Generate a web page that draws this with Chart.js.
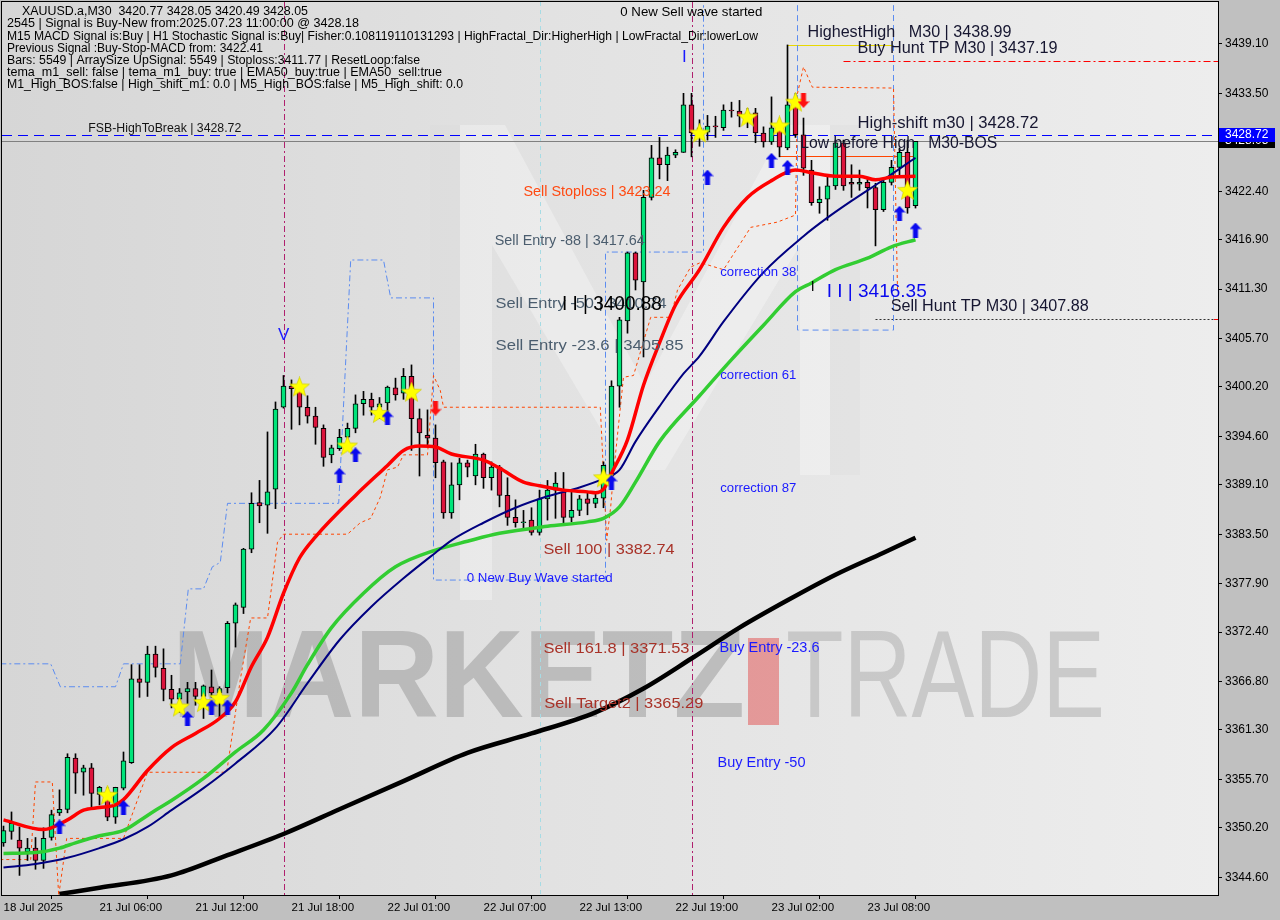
<!DOCTYPE html>
<html lang="en">
<head>
<meta charset="UTF-8">
<title>XAUUSD.a M30</title>
<style>
  html, body { margin: 0; padding: 0; background: #c0c0c0; }
  #wrap { width: 1280px; height: 920px; }
</style>
</head>
<body>
<div id="wrap"><canvas id="myChart" width="1280" height="920"></canvas></div>
<script src="https://cdn.jsdelivr.net/npm/chart.js@4"></script>
<script>
// candles, M30, oldest first (18 Jul 22:00 ... 23 Jul 11:00)
const opens  = [3348.5,3349.8,3348.8,3347.5,3347.9,3346.5,3349.1,3351.9,3352.3,3358.1,3356.5,3357.0,3354.0,3354.2,3351.4,3354.7,3357.6,3367.1,3366.7,3369.9,
  3368.3,3365.9,3364.8,3365.6,3366.0,3365.1,3366.2,3365.5,3366.1,3373.4,3375.2,3381.8,3387.1,3386.8,3388.6,3397.9,3400.3,3400.0,3397.9,3396.9,
  3395.5,3392.5,3393.2,3394.5,3395.5,3398.3,3398.8,3397.9,3398.4,3400.1,3399.5,3401.4,3396.6,3394.7,3394.4,3391.7,3385.9,3389.1,3391.6,3390.1,
  3392.6,3389.9,3391.1,3387.9,3385.4,3384.8,3385.1,3383.7,3387.5,3388.5,3388.3,3385.4,3386.2,3387.5,3387.0,3387.6,3390.1,3400.3,3407.7,3415.4,
  3412.1,3421.7,3426.2,3425.4,3426.5,3426.8,3432.2,3429.0,3429.1,3429.8,3429.6,3431.6,3431.5,3430.9,3431.3,3429.0,3428.0,3429.6,3427.3,3432.2,
  3428.8,3424.8,3421.1,3421.5,3423.0,3427.9,3423.4,3423.2,3423.4,3422.8,3420.3,3423.4,3425.1,3426.8,3420.77];
const highs  = [3350.4,3352.0,3350.3,3349.0,3349.1,3350.2,3352.2,3354.5,3358.6,3358.6,3357.3,3357.5,3354.9,3354.8,3354.8,3358.8,3368.7,3368.7,3370.8,3370.8,
  3370.5,3367.5,3366.0,3366.7,3366.7,3366.4,3368.1,3366.2,3373.6,3375.7,3381.9,3388.2,3389.6,3395.1,3398.5,3401.5,3401.0,3400.6,3399.2,3397.9,
  3395.9,3393.6,3395.4,3396.1,3399.3,3399.7,3399.5,3399.0,3400.3,3401.2,3402.3,3402.7,3397.7,3397.6,3395.9,3391.9,3391.6,3392.1,3391.9,3393.7,
  3392.7,3391.7,3391.3,3389.9,3387.4,3386.2,3386.5,3388.5,3389.6,3390.5,3390.5,3388.5,3387.9,3388.3,3388.2,3391.7,3400.9,3408.1,3415.5,3415.5,
  3422.5,3427.6,3428.5,3427.4,3427.1,3433.5,3433.5,3430.5,3431.0,3430.9,3432.2,3432.5,3432.7,3431.8,3431.8,3429.7,3433.1,3430.1,3438.99,3433.5,
  3430.7,3425.9,3422.9,3424.1,3428.2,3428.2,3425.4,3424.8,3423.9,3423.3,3423.7,3425.9,3427.3,3428.2,3428.05];
const lows   = [3348.1,3348.9,3344.8,3346.5,3345.5,3345.6,3348.8,3351.6,3351.9,3354.1,3353.9,3352.5,3352.8,3351.0,3350.7,3354.5,3357.5,3365.0,3365.1,3367.3,
  3364.6,3363.8,3363.3,3364.3,3364.1,3362.6,3365.0,3362.8,3365.5,3370.7,3374.5,3381.4,3384.8,3383.6,3386.4,3397.8,3395.4,3395.9,3396.1,3393.7,
  3391.2,3391.6,3393.0,3393.9,3395.0,3397.0,3397.0,3396.6,3397.3,3398.7,3398.8,3393.0,3390.1,3393.4,3389.9,3385.3,3385.3,3387.4,3390.0,3389.1,
  3388.7,3388.5,3386.6,3384.5,3384.3,3384.2,3383.4,3383.4,3385.1,3385.3,3384.8,3384.9,3385.6,3385.7,3386.5,3386.5,3389.6,3397.9,3406.3,3411.2,
  3403.6,3421.4,3423.8,3423.6,3426.2,3426.8,3426.3,3427.5,3428.2,3428.5,3429.3,3430.8,3429.7,3429.6,3427.9,3427.4,3427.7,3426.3,3427.1,3428.5,
  3424.2,3420.8,3419.9,3419.1,3422.6,3422.5,3421.7,3422.5,3420.5,3416.2,3420.1,3423.1,3424.2,3419.9,3420.49];
const closes = [3349.9,3350.7,3347.9,3347.9,3346.5,3349.0,3351.7,3352.3,3358.2,3356.4,3357.0,3354.1,3354.8,3351.4,3354.8,3357.8,3367.1,3366.7,3369.9,3368.4,
  3365.9,3364.8,3365.5,3366.0,3365.1,3366.3,3365.5,3366.0,3373.4,3375.5,3381.8,3387.0,3386.7,3388.3,3397.7,3400.3,3400.0,3397.9,3396.9,3395.6,
  3392.2,3393.3,3394.5,3395.5,3398.3,3398.8,3397.9,3398.3,3400.2,3399.3,3401.4,3396.6,3395.0,3394.4,3391.6,3385.9,3389.1,3391.6,3391.1,3392.6,
  3389.9,3391.1,3387.9,3385.4,3384.8,3384.9,3383.7,3387.5,3388.5,3389.3,3385.4,3386.2,3387.5,3387.0,3387.6,3391.3,3400.3,3407.8,3415.4,3412.3,
  3421.7,3426.2,3425.4,3426.5,3426.8,3432.2,3429.0,3429.6,3429.8,3429.7,3431.6,3431.5,3430.9,3431.3,3429.0,3428.0,3429.6,3427.4,3432.2,3428.8,
  3425.0,3421.1,3421.5,3423.0,3427.9,3423.0,3423.2,3423.4,3422.8,3420.3,3423.4,3425.1,3426.8,3420.5,3428.05];

const timeTickIdx = [0, 12, 24, 36, 48, 60, 72, 84, 96, 108];
const timeTickLabels = ['18 Jul 2025','21 Jul 06:00','21 Jul 12:00','21 Jul 18:00','22 Jul 01:00',
  '22 Jul 07:00','22 Jul 13:00','22 Jul 19:00','23 Jul 02:00','23 Jul 08:00'];
const priceTicks = [3439.10,3433.50,3427.90,3422.40,3416.90,3411.30,3405.70,3400.20,3394.60,3389.10,
  3383.50,3377.90,3372.40,3366.80,3361.30,3355.70,3350.20,3344.60];

// moving averages, read at candle indexes
const redIdx = [0,5,8,10,12,14,15,18,21,24,27,29,31,33,35,37,39,44,48,50,52,54,56,60,62,65,67,70,73,74,75,76,78,80,82,84,87,90,93,96,99,101,104,107,109,111,114];
const redVal = [3351.1,3350.0,3351.1,3352.2,3352.5,3352.8,3353.4,3356.7,3359.3,3360.9,3362.6,3364.5,3368.5,3371.8,3376.8,3380.8,3383.2,3387.9,3391.3,3393.0,
  3393.5,3393.4,3392.6,3391.9,3391.0,3389.4,3389.0,3388.5,3388.3,3388.2,3388.6,3390.4,3394.2,3400.4,3405.2,3409.5,3413.5,3418.3,3421.7,3423.6,
  3424.8,3424.5,3424.1,3424.1,3423.7,3424.0,3424.1];
const navyIdx = [0,4,8,12,15,18,21,25,29,34,38,42,46,50,54,56,60,64,68,72,75,77,79,82,85,87,90,95,100,103,106,110,114];
const navyVal = [3345.7,3346.1,3346.8,3347.9,3348.9,3350.3,3352.2,3354.7,3357.5,3361.5,3366.6,3371.5,3375.3,3378.5,3381.4,3382.8,3384.8,3386.5,3387.8,3388.8,
  3389.8,3390.8,3394.0,3398.0,3401.7,3403.7,3407.6,3413.2,3417.3,3419.4,3421.3,3423.7,3426.2];
const greenIdx = [0,4,7,9,12,15,17,19,21,25,29,32.5,36,38,41,45,49,54,58,62,68,73,75,77,79,82,87,91,95,99,101,104,108,111,114];
const greenVal = [3347.3,3347.4,3347.9,3348.5,3349.3,3349.9,3351.0,3352.2,3353.3,3355.8,3358.8,3361.3,3365.5,3368.7,3372.9,3376.8,3379.8,3381.7,3382.7,3383.6,
  3384.4,3384.9,3385.3,3386.6,3389.4,3394.0,3399.2,3403.3,3407.2,3411.0,3412.0,3413.5,3414.8,3416.1,3416.9];
const blackIdx = [7,12,21,28,35,42,50,58,66,74,80,86,92,98,104,110,114];
const blackVal = [3342.7,3343.4,3344.8,3347.1,3349.5,3352.3,3355.5,3358.7,3360.9,3363.3,3366.0,3369.4,3372.9,3376.0,3378.9,3381.4,3383.1];

// stepped stop trail (orange) and fractal channel (blue)
const trailIdx = [-0.4,3.4,4.0,6.1,6.9,7.9,15.0,18.0,27.9,29.6,30.9,33.0,34.25,35.0,43.0,44.6,45.9,47.1,48.0,49.25,50.0,53.0,53.75,54.6,55.0,74.6,75.4,75.9,76.25,
  77.5,78.75,80.9,83.4,84.25,85.9,87.1,90.0,93.4,96.75,99.0,99.25,100.0,101.1,111.25,111.75];
const trailVal = [3346.6,3346.6,3355.4,3355.4,3342.5,3349.0,3349.0,3356.5,3356.5,3367.0,3374.0,3374.0,3382.6,3383.5,3383.5,3384.8,3385.3,3387.7,3390.8,3391.1,
  3392.5,3392.5,3401.5,3399.8,3397.9,3397.9,3382.8,3386.6,3390.4,3401.3,3401.5,3408.1,3408.1,3411.2,3413.8,3414.3,3413.5,3418.3,3418.9,3419.7,
  3433.5,3436.5,3434.2,3434.1,3411.2];
const fractalIdx = [-0.4,5.9,7.1,14.0,15.0,22.1,23.1,25.0,26.1,27.1,28.0,41.9,43.4,47.5,48.4,53.75,53.75,75.25,75.25,87.5,87.5];
const fractalVal = [3368.8,3368.8,3366.2,3366.2,3368.8,3368.8,3377.3,3377.3,3379.8,3380.3,3387.0,3387.0,3414.6,3414.6,3410.3,3410.3,3378.3,3378.3,3415.5,3415.5,3443.5];
const boxIdx = [99.25, 99.25, 111.25, 111.25];
const boxVal = [3443.5, 3406.65, 3406.65, 3443.5];

// signal markers
const starIdx = [13,22,25,27,37,43,47,51,75,87,93,97,99,113];
const starVal = [3353.9,3363.9,3364.4,3364.9,3400.2,3393.5,3397.2,3399.6,3389.9,3429.0,3430.8,3429.8,3432.5,3422.5];
const upIdx = [7,15,23,26,28,42,44,48,76,88,96,98,112,114];
const upVal = [3350.3,3352.5,3362.6,3363.9,3363.9,3390.2,3392.5,3396.7,3389.4,3424.0,3425.9,3425.1,3419.9,3418.0];
const downIdx = [54, 100];
const downVal = [3397.8, 3432.7];

// levels
const fsbLevel = 3428.72, bidLevel = 3428.05;
const buyHuntTP = 3437.19, sellHuntTP = 3407.88, highestHigh = 3438.99, lowBeforeHigh = 3426.39;

const GREEN = '#00e47a', RED = '#dc143c';
const mk = (xs, ys) => xs.map((x, k) => ({ x: x, y: ys[k] }));
const candleIdx = opens.map((_, i) => i);

function starImg() {
  const c = document.createElement('canvas'); c.width = 21; c.height = 21;
  const g = c.getContext('2d');
  g.beginPath();
  for (let k = 0; k < 10; k++) {
    const r = k % 2 ? 4.5 : 10.5, a = -Math.PI / 2 + k * Math.PI / 5;
    g.lineTo(10.5 + r * Math.cos(a), 11 + r * Math.sin(a));
  }
  g.closePath(); g.fillStyle = '#ffff00'; g.fill();
  g.strokeStyle = 'rgba(200,200,0,0.6)'; g.stroke();
  return c;
}
function arrowImg(color, down) {
  const c = document.createElement('canvas'); c.width = 12; c.height = 15;
  const g = c.getContext('2d');
  if (down) { g.translate(0, 15); g.scale(1, -1); }
  g.beginPath();
  g.moveTo(6, 0); g.lineTo(12, 6.5); g.lineTo(8.5, 6.5); g.lineTo(8.5, 15);
  g.lineTo(3.5, 15); g.lineTo(3.5, 6.5); g.lineTo(0, 6.5); g.closePath();
  g.fillStyle = color; g.fill();
  return c;
}

const notes = [
  { t: '0 New Sell wave started', i: 77.1, p: 3442.7, c: '#000000', s: 13, w: 142 },
  { t: 'HighestHigh   M30 | 3438.99', i: 100.5, p: 3440.35, c: '#161630', s: 16, w: 204 },
  { t: 'Buy Hunt TP M30 | 3437.19', i: 106.75, p: 3438.53, c: '#161630', s: 16, w: 200 },
  { t: 'High-shift m30 | 3428.72', i: 106.75, p: 3430.02, c: '#161630', s: 16, w: 181 },
  { t: 'Low before High   M30-BOS', i: 99.6, p: 3427.75, c: '#161630', s: 16, w: 197 },
  { t: 'Sell Stoploss | 3423.24', i: 65.0, p: 3422.31, c: '#ff4a12', s: 14, w: 147 },
  { t: 'Sell Entry -88 | 3417.64', i: 61.4, p: 3416.75, c: '#4b5d6e', s: 14, w: 150 },
  { t: 'Sell Entry -50 | 3410.74', i: 61.5, p: 3409.6, c: '#4b5d6e', s: 15, w: 171 },
  { t: 'I I | 3400.88', i: 69.8, p: 3409.6, c: '#000000', s: 20, w: 100 },
  { t: 'Sell Entry -23.6 | 3405.85', i: 61.5, p: 3404.83, c: '#4b5d6e', s: 15, w: 188 },
  { t: 'correction 38', i: 89.6, p: 3413.12, c: '#1a1aff', s: 12, w: 76 },
  { t: 'correction 61', i: 89.6, p: 3401.43, c: '#1a1aff', s: 12, w: 76 },
  { t: 'correction 87', i: 89.6, p: 3388.61, c: '#1a1aff', s: 12, w: 76 },
  { t: 'I', i: 100.9, p: 3411.5, c: '#000000', s: 14 },
  { t: 'I I | 3416.35', i: 102.9, p: 3410.96, c: '#0a0aee', s: 19, w: 100 },
  { t: 'Sell Hunt TP M30 | 3407.88', i: 110.9, p: 3409.26, c: '#161630', s: 16, w: 198 },
  { t: 'Sell 100 | 3382.74', i: 67.5, p: 3381.70, c: '#a83228', s: 15, w: 131 },
  { t: '0 New Buy Wave started', i: 57.9, p: 3378.4, c: '#1a1aff', s: 12, w: 146 },
  { t: 'Sell 161.8 | 3371.53', i: 67.5, p: 3370.46, c: '#a83228', s: 15, w: 146 },
  { t: 'Sell Target2 | 3365.29', i: 67.6, p: 3364.22, c: '#a83228', s: 15, w: 159 },
  { t: 'Buy Entry -23.6', i: 89.5, p: 3370.57, c: '#1a1aff', s: 14, w: 100 },
  { t: 'Buy Entry -50', i: 89.25, p: 3357.53, c: '#1a1aff', s: 14, w: 88 },
  { t: 'V', i: 34.3, p: 3406.08, c: '#1a1aff', s: 17 },
  { t: 'I', i: 84.8, p: 3437.62, c: '#1a1aff', s: 17 },
  { t: 'FSB-HighToBreak | 3428.72', i: 10.6, p: 3429.45, c: '#141414', s: 12, w: 153 }
];
const header = [
  ['XAUUSD.a,M30  3420.77 3428.05 3420.49 3428.05', 22, 12, 286],
  ['2545 | Signal is Buy-New from:2025.07.23 11:00:00 @ 3428.18', 7, 24, 352],
  ['M15 MACD Signal is:Buy | H1 Stochastic Signal is:Buy| Fisher:0.108119110131293 | HighFractal_Dir:HigherHigh | LowFractal_Dir:lowerLow', 7, 37, 751],
  ['Previous Signal :Buy-Stop-MACD from: 3422.41', 7, 49, 256],
  ['Bars: 5549 | ArraySize UpSignal: 5549 | Stoploss:3411.77 | ResetLoop:false', 7, 61, 413],
  ['tema_m1_sell: false | tema_m1_buy: true | EMA50_buy:true | EMA50_sell:true', 7, 73, 435],
  ['M1_High_BOS:false | High_shift_m1: 0.0 | M5_High_BOS:false | M5_High_shift: 0.0', 7, 85, 456]
];

function fitText(g, text, x, y, size, color, width, weight) {
  g.save();
  g.font = (weight || 'normal') + ' ' + size + 'px "Liberation Sans", Arial, sans-serif';
  g.textBaseline = 'middle'; g.textAlign = 'left'; g.fillStyle = color;
  const m = g.measureText(text).width;
  g.translate(x, y);
  if (width) g.scale(width / m, 1);
  g.fillText(text, 0, 0);
  g.restore();
}

function hLine(g, area, y, x0, x1, color, dash) {
  g.save(); g.strokeStyle = color; g.lineWidth = 1; g.setLineDash(dash || []);
  g.beginPath(); g.moveTo(Math.max(x0, area.left), Math.round(y) + 0.5); g.lineTo(Math.min(x1, area.right), Math.round(y) + 0.5); g.stroke();
  g.restore();
}
function vLine(g, area, x, color, dash) {
  g.save(); g.strokeStyle = color; g.lineWidth = 1; g.setLineDash(dash || []);
  g.beginPath(); g.moveTo(Math.round(x) + 0.5, area.top); g.lineTo(Math.round(x) + 0.5, area.bottom); g.stroke();
  g.restore();
}
function noPad(s) { s.paddingLeft = 0; s.paddingRight = 0; s.paddingTop = 0; s.paddingBottom = 0; }

const decor = {
  id: 'decor',
  beforeDraw(chart) {
    const g = chart.ctx, a = chart.chartArea;
    g.save();
    g.fillStyle = '#c0c0c0'; g.fillRect(0, 0, chart.width, chart.height);
    const grad = g.createLinearGradient(a.left, 0, a.right, 0);
    grad.addColorStop(0, '#d6d6d6'); grad.addColorStop(0.45, '#e2e2e2'); grad.addColorStop(1, '#ededed');
    g.fillStyle = grad; g.fillRect(a.left, a.top, a.right - a.left, a.bottom - a.top);
    g.restore();
  },
  beforeDatasetsDraw(chart) {
    const g = chart.ctx, a = chart.chartArea, X = v => chart.scales.x.getPixelForValue(v), Y = v => chart.scales.y.getPixelForValue(v);
    g.save();
    g.beginPath(); g.rect(a.left, a.top, a.right - a.left, a.bottom - a.top); g.clip();
    // big M logo
    g.fillStyle = 'rgba(255,255,255,0.3)';
    g.beginPath();
    g.moveTo(430, 600); g.lineTo(430, 125); g.lineTo(505, 125); g.lineTo(645, 385); g.lineTo(785, 125); g.lineTo(860, 125);
    g.lineTo(860, 475); g.lineTo(800, 475); g.lineTo(800, 245); g.lineTo(665, 470); g.lineTo(625, 470); g.lineTo(492, 245); g.lineTo(492, 600);
    g.closePath(); g.fill();
    g.fillStyle = 'rgba(150,150,150,0.12)';
    g.beginPath(); g.moveTo(430, 600); g.lineTo(430, 125); g.lineTo(460, 125); g.lineTo(460, 600); g.closePath(); g.fill();
    g.beginPath(); g.moveTo(830, 125); g.lineTo(860, 125); g.lineTo(860, 475); g.lineTo(830, 475); g.closePath(); g.fill();
    // watermark
    fitText(g, 'MARKETZ', 172, 683, 124, 'rgba(150,150,150,0.5)', 573, 'bold');
    g.fillStyle = 'rgba(226,120,120,0.7)'; g.fillRect(748, 638, 31, 87);
    fitText(g, 'TRADE', 786, 683, 124, 'rgba(175,175,175,0.55)', 319);
    // vertical markers
    vLine(g, a, X(35.1), '#b0206e', [6, 3, 2, 3]);
    vLine(g, a, X(86), '#b0206e', [6, 3, 2, 3]);
    vLine(g, a, X(67.1), '#a6dbe4', [4, 4]);
    // horizontal levels
    hLine(g, a, Y(bidLevel), a.left, a.right, '#808080');
    hLine(g, a, Y(fsbLevel), a.left, a.right, '#0000ff', [10, 6]);
    hLine(g, a, Y(buyHuntTP), X(105), a.right, '#ff0000', [7, 3, 2, 3]);
    hLine(g, a, Y(sellHuntTP), X(109), a.right, '#303030', [2, 2]);
    hLine(g, a, Y(highestHigh), X(98), X(111.25), '#e8d800');
    hLine(g, a, Y(lowBeforeHigh), X(97), X(114), '#ff4500');
    g.restore();
  },
  afterDatasetsDraw(chart) {
    const g = chart.ctx, a = chart.chartArea, X = v => chart.scales.x.getPixelForValue(v), Y = v => chart.scales.y.getPixelForValue(v);
    g.save();
    g.beginPath(); g.rect(a.left, a.top, a.right - a.left, a.bottom - a.top); g.clip();
    notes.forEach(n => fitText(g, n.t, X(n.i), Y(n.p), n.s, n.c, n.w));
    header.forEach(h => fitText(g, h[0], h[1], h[2], 12, '#000000', h[3]));
    g.restore();
  },
  afterDraw(chart) {
    const g = chart.ctx, a = chart.chartArea, Y = v => chart.scales.y.getPixelForValue(v);
    g.save();
    g.strokeStyle = '#000'; g.lineWidth = 1;
    g.strokeRect(a.left - 0.5, a.top - 0.5, a.right - a.left + 1, a.bottom - a.top + 1);
    // price boxes on the axis
    let y = Math.round(Y(bidLevel));
    g.fillStyle = '#000'; g.fillRect(a.right + 1, y - 6, 56, 13);
    fitText(g, bidLevel.toFixed(2), a.right + 7, y, 12, '#ffffff');
    y = Math.round(Y(fsbLevel));
    g.fillStyle = '#0000ff'; g.fillRect(a.right + 1, y - 7, 56, 14);
    fitText(g, fsbLevel.toFixed(2), a.right + 7, y, 12, '#ffffff');
    g.fillStyle = '#ff0000';
    g.fillRect(a.right - 4, Math.round(Y(buyHuntTP)), 4, 1);
    g.fillRect(a.right - 4, Math.round(Y(sellHuntTP)), 4, 1);
    g.restore();
  }
};

const ctx = document.getElementById('myChart');
new Chart(ctx, {
  type: 'bar',
  data: {
    datasets: [
      { type: 'line', data: mk(upIdx, upVal), showLine: false, pointStyle: arrowImg('#0a0aee'), pointRadius: 7, order: 1 },
      { type: 'line', data: mk(downIdx, downVal), showLine: false, pointStyle: arrowImg('#ff1010', true), pointRadius: 7, order: 1 },
      { type: 'line', data: mk(starIdx, starVal), showLine: false, pointStyle: starImg(), pointRadius: 9, order: 2 },
      { type: 'line', data: mk(redIdx, redVal), borderColor: '#ff0000', borderWidth: 3.5, pointRadius: 0, cubicInterpolationMode: 'monotone', order: 4 },
      { type: 'line', data: mk(navyIdx, navyVal), borderColor: '#000080', borderWidth: 2, pointRadius: 0, cubicInterpolationMode: 'monotone', order: 5 },
      { type: 'line', data: mk(greenIdx, greenVal), borderColor: '#32cd32', borderWidth: 3.5, pointRadius: 0, cubicInterpolationMode: 'monotone', order: 6 },
      { type: 'line', data: mk(blackIdx, blackVal), borderColor: '#000000', borderWidth: 4.5, pointRadius: 0, cubicInterpolationMode: 'monotone', order: 7 },
      { type: 'bar', data: candleIdx.map(i => ({ x: i, y: [opens[i], closes[i]] })),
        backgroundColor: c => closes[c.dataIndex] >= opens[c.dataIndex] ? GREEN : RED,
        borderColor: '#000', borderWidth: 1, borderSkipped: false, barThickness: 5, minBarLength: 1, grouped: false, order: 9 },
      { type: 'bar', data: candleIdx.map(i => ({ x: i, y: [lows[i], highs[i]] })),
        backgroundColor: '#000', barThickness: 1, grouped: false, order: 10 },
      { type: 'line', data: mk(trailIdx, trailVal), borderColor: '#ff4500', borderWidth: 1, borderDash: [3, 3], pointRadius: 0, order: 12 },
      { type: 'line', data: mk(fractalIdx, fractalVal), borderColor: '#5c8cf0', borderWidth: 1, borderDash: [6, 3, 2, 3], pointRadius: 0, order: 12 },
      { type: 'line', data: mk(boxIdx, boxVal), borderColor: '#5c8cf0', borderWidth: 1, borderDash: [6, 4], pointRadius: 0, order: 12 }
    ]
  },
  options: {
    responsive: false,
    animation: false,
    devicePixelRatio: 1,
    layout: { autoPadding: false, padding: { left: 2, top: 2, right: 0, bottom: 0 } },
    plugins: { legend: { display: false }, tooltip: { enabled: false } },
    scales: {
      x: {
        type: 'linear', min: -0.1875, max: 151.8125, offset: false,
        grid: { display: true, drawOnChartArea: false, drawTicks: true, tickLength: 4, color: '#000' },
        border: { display: false },
        afterBuildTicks: s => { s.ticks = timeTickIdx.map(v => ({ value: v })); },
        afterFit: s => { s.height = 25; noPad(s); },
        ticks: { autoSkip: false, maxRotation: 0, align: 'start', padding: 2, color: '#000',
          font: { family: 'Liberation Sans', size: 11.5 },
          callback: v => timeTickLabels[timeTickIdx.indexOf(v)] }
      },
      y: {
        type: 'linear', position: 'right', min: 3342.58, max: 3443.86,
        grid: { display: true, drawOnChartArea: false, drawTicks: true, tickLength: 4, color: '#000' },
        border: { display: false },
        afterBuildTicks: s => { s.ticks = priceTicks.map(v => ({ value: v })); },
        afterFit: s => { s.width = 62; noPad(s); },
        ticks: { padding: 3, color: '#000', font: { family: 'Liberation Sans', size: 12 },
          callback: v => v.toFixed(2) }
      }
    }
  },
  plugins: [decor]
});
</script>
</body>
</html>
